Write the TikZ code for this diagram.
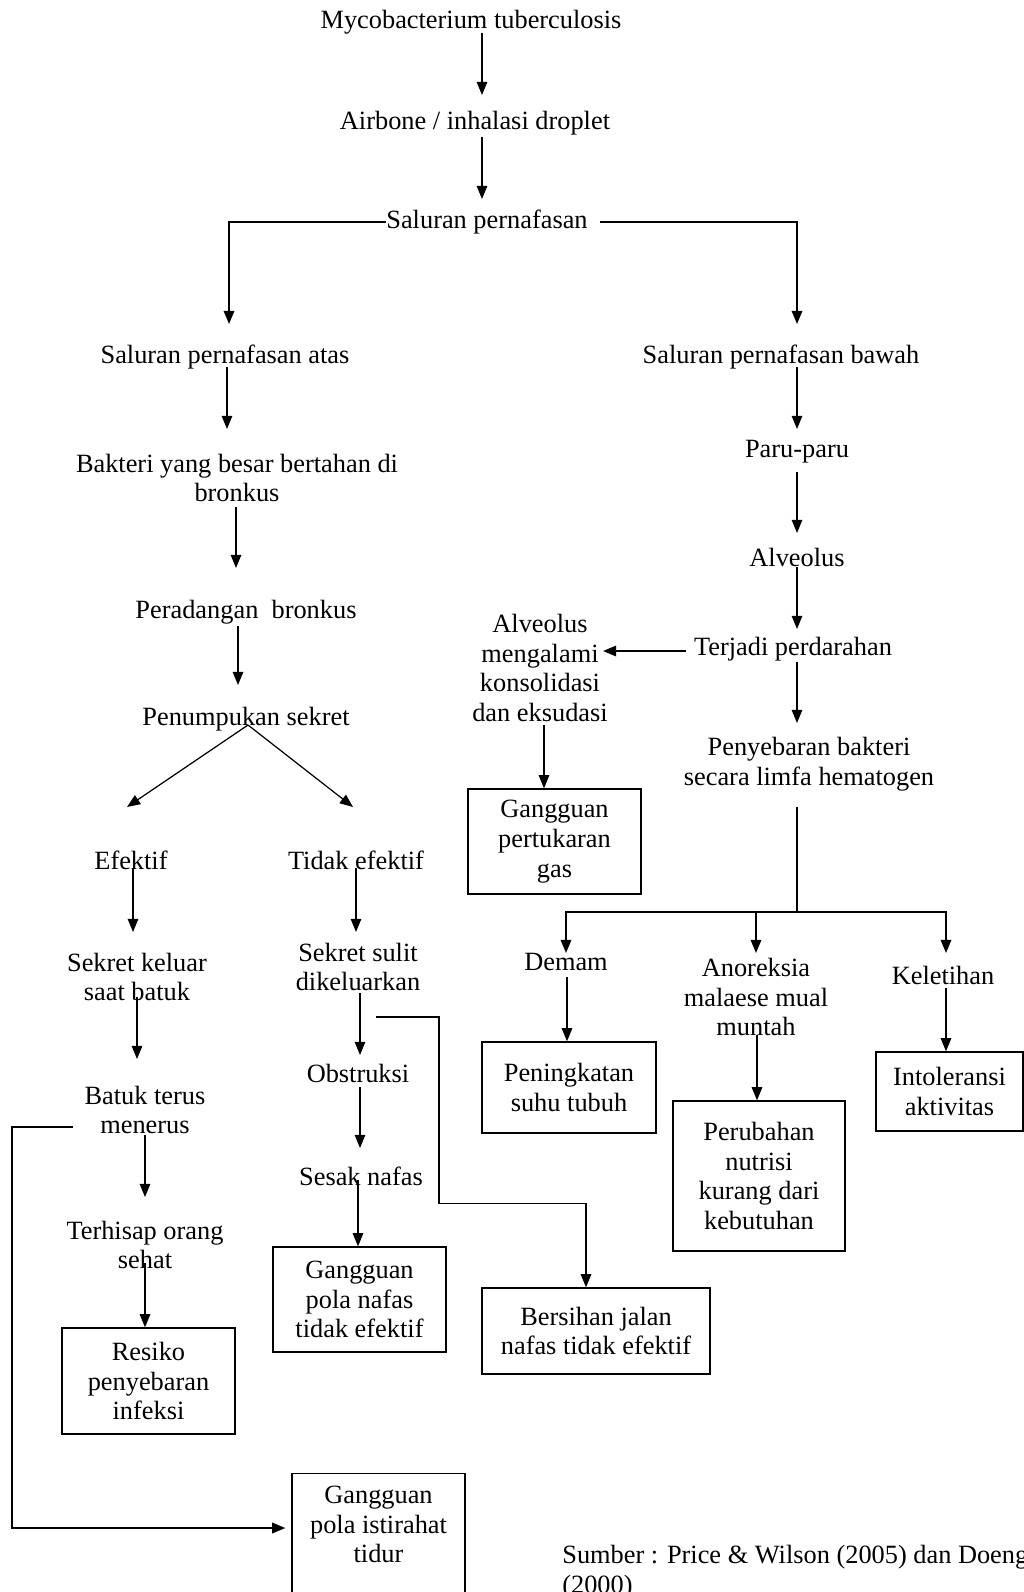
\documentclass[tikz,border=0pt]{standalone}
\usepackage{fontspec}
\setmainfont{Liberation Serif}
\usetikzlibrary{arrows.meta, calc}

\begin{document}
\begin{tikzpicture}[x=0.02cm, y=-0.02cm,
  font=\fontsize{15}{17}\selectfont,
  txt/.style={align=center, inner sep=0pt},
  box/.style 2 args={draw, line width=0.8pt, align=center, inner sep=0pt,
    minimum width=#1, minimum height=#2},
  arr/.style={-{Triangle[length=7.5pt, width=6pt]}, line width=0.7pt},
  link/.style={line width=1pt}]
\useasboundingbox (0,0) rectangle (1024,1592);
\clip (0,0) rectangle (1024,1592);
\fill[white] (0,0) rectangle (1024,1592);

% top chain
\node[txt] (myco) at (471,22) {Mycobacterium tuberculosis};
\node[txt] (airb) at (475,123) {Airbone / inhalasi droplet};
\node[txt] (salur) at (487,222) {Saluran pernafasan};
\node[txt] (atas) at (225,357) {Saluran pernafasan atas};
\node[txt] (bawah) at (781,357) {Saluran pernafasan bawah};

% left branch
\node[txt] (bakteri) at (237,478) {Bakteri yang besar bertahan di\\bronkus};
\node[txt] (radang) at (246,612) {Peradangan\ \ bronkus};
\node[txt] (tumpuk) at (246,719) {Penumpukan sekret};
\node[txt] (efektif) at (131,860) {Efektif};
\node[txt] (tidak) at (356,860) {Tidak efektif};
\node[txt] (keluar) at (137,977) {Sekret keluar\\saat batuk};
\node[txt] (batuk) at (145,1110) {Batuk terus\\menerus};
\node[txt] (hisap) at (145,1245) {Terhisap orang\\sehat};
\node[txt] (sulit) at (358,967) {Sekret sulit\\dikeluarkan};
\node[txt] (obstruksi) at (358,1073) {Obstruksi};
\node[txt] (sesak) at (361,1176) {Sesak nafas};

% right branch
\node[txt] (paru) at (797,452) {Paru-paru};
\node[txt] (alveolus) at (797,557) {Alveolus};
\node[txt] (darah) at (793,649) {Terjadi perdarahan};
\node[txt] (konsol) at (540,668) {Alveolus\\mengalami\\konsolidasi\\dan eksudasi};
\node[txt] (sebar) at (809,764) {Penyebaran bakteri\\secara limfa hematogen};
\node[txt] (demam) at (566,962) {Demam};
\node[txt] (anorek) at (756,997) {Anoreksia\\malaese mual\\muntah};
\node[txt] (letih) at (943,975) {Keletihan};

% diagnosa
\node[box={3.46cm}{2.1cm}] (gas) at (554.5,841.5) {Gangguan\\pertukaran\\gas};
\node[box={3.48cm}{1.82cm}] (suhu) at (569,1087.5) {Peningkatan\\suhu tubuh};
\node[box={3.44cm}{3cm}] (nutrisi) at (759,1176) {Perubahan\\nutrisi\\kurang dari\\kebutuhan};
\node[box={2.94cm}{1.58cm}] (intol) at (949.5,1091.5) {Intoleransi\\aktivitas};
\node[box={3.46cm}{2.12cm}] (resiko) at (148.5,1381) {Resiko\\penyebaran\\infeksi};
\node[box={3.46cm}{2.1cm}] (polanafas) at (359.5,1299.5) {Gangguan\\pola nafas\\tidak efektif};
\node[box={4.56cm}{1.72cm}] (bersih) at (596,1331) {Bersihan jalan\\nafas tidak efektif};
\node[box={3.46cm}{2.8cm}, anchor=north] (istirahat) at (378.5,1473) {Gangguan\\pola istirahat\\tidur\\ \strut};
\node[txt, align=left, anchor=north west] (sumber) at (562,1545) {Sumber : Price \& Wilson (2005) dan Doenges\\(2000)};

\draw[arr] ($(myco)+(11,11)$) -- ($(airb)+(7,-28)$);
\draw[arr] ($(airb)+(7,14)$) -- ($(salur)+(-5,-23)$);
\draw[arr, link] (salur.west) -| ($(atas)+(4,-33)$);
\draw[arr, link] ($(salur.east)+(12,0)$) -| ($(bawah)+(16,-33)$);
\draw[arr] ($(atas)+(2,10)$) -- ($(bakteri)+(-10,-49)$);
\draw[arr] ($(bawah)+(16,10)$) -- ($(paru)+(0,-23)$);
\draw[arr] ($(bakteri)+(-1,29)$) -- ($(radang)+(-10,-44)$);
\draw[arr] ($(radang)+(-8,14)$) -- ($(tumpuk)+(-8,-34)$);
\draw[arr] ($(tumpuk)+(2,6)$) -- ($(efektif)+(-4,-53)$);
\draw[arr] ($(tumpuk)+(2,6)$) -- ($(tidak)+(-3,-53)$);
\draw[arr] ($(efektif)+(2,8)$) -- ($(keluar)+(-4,-45)$);
\draw[arr] ($(tidak)+(0,8)$) -- ($(sulit)+(-2,-35)$);
\draw[arr] ($(keluar)+(0,20)$) -- ($(batuk)+(-8,-51)$);
\draw[arr] ($(batuk)+(0,25)$) -- ($(hisap)+(0,-48)$);
\draw[arr] ($(hisap)+(0,18)$) -- (hisap |- resiko.north);
\draw[arr, link] ($(batuk)+(-72,17)$) -- ++(-61,0) |- ($(istirahat.north west)+(-6,55)$);
\draw[arr] ($(sulit)+(2,26)$) -- ($(obstruksi)+(2,-18)$);
\draw[arr] ($(sulit)+(18,50)$) -- ++(63,0) |- ($(bersih.north)+(-10,-84)$) -- ($(bersih.north)+(-10,0)$);
\draw[arr] ($(obstruksi)+(2,14)$) -- ($(sesak)+(-1,-28)$);
\draw[arr] ($(sesak)+(-3,4)$) -- ($(polanafas.north)+(-1.5,0)$);
\draw[arr] ($(paru)+(0,20)$) -- ($(alveolus)+(0,-24)$);
\draw[arr] ($(alveolus)+(0,10)$) -- ($(darah)+(4,-20)$);
\draw[arr, link] ($(darah.west)+(-8,2)$) -- ($(konsol)+(63,-17)$);
\draw[arr] ($(darah)+(4,13)$) -- ($(sebar)+(-12,-41)$);
\draw[arr] ($(konsol)+(4,57)$) -- ($(gas.north)+(-10.5,0)$);
\coordinate (bus) at ($(sebar)+(-12,148)$);
\draw[link] ($(sebar)+(-12,43)$) -- (bus);
\draw[arr, link] (bus) -| ($(demam)+(0,-9)$);
\draw[arr, link] (bus) -| ($(anorek)+(0,-44)$);
\draw[arr, link] (bus) -| ($(letih)+(3,-22)$);
\draw[arr] ($(demam)+(1,15)$) -- ($(suhu.north)+(-2,0)$);
\draw[arr] ($(anorek)+(1,38)$) -- ($(nutrisi.north)+(-2,0)$);
\draw[arr] ($(letih)+(3,13)$) -- ($(intol.north)+(-3.5,0)$);
\end{tikzpicture}
\end{document}
